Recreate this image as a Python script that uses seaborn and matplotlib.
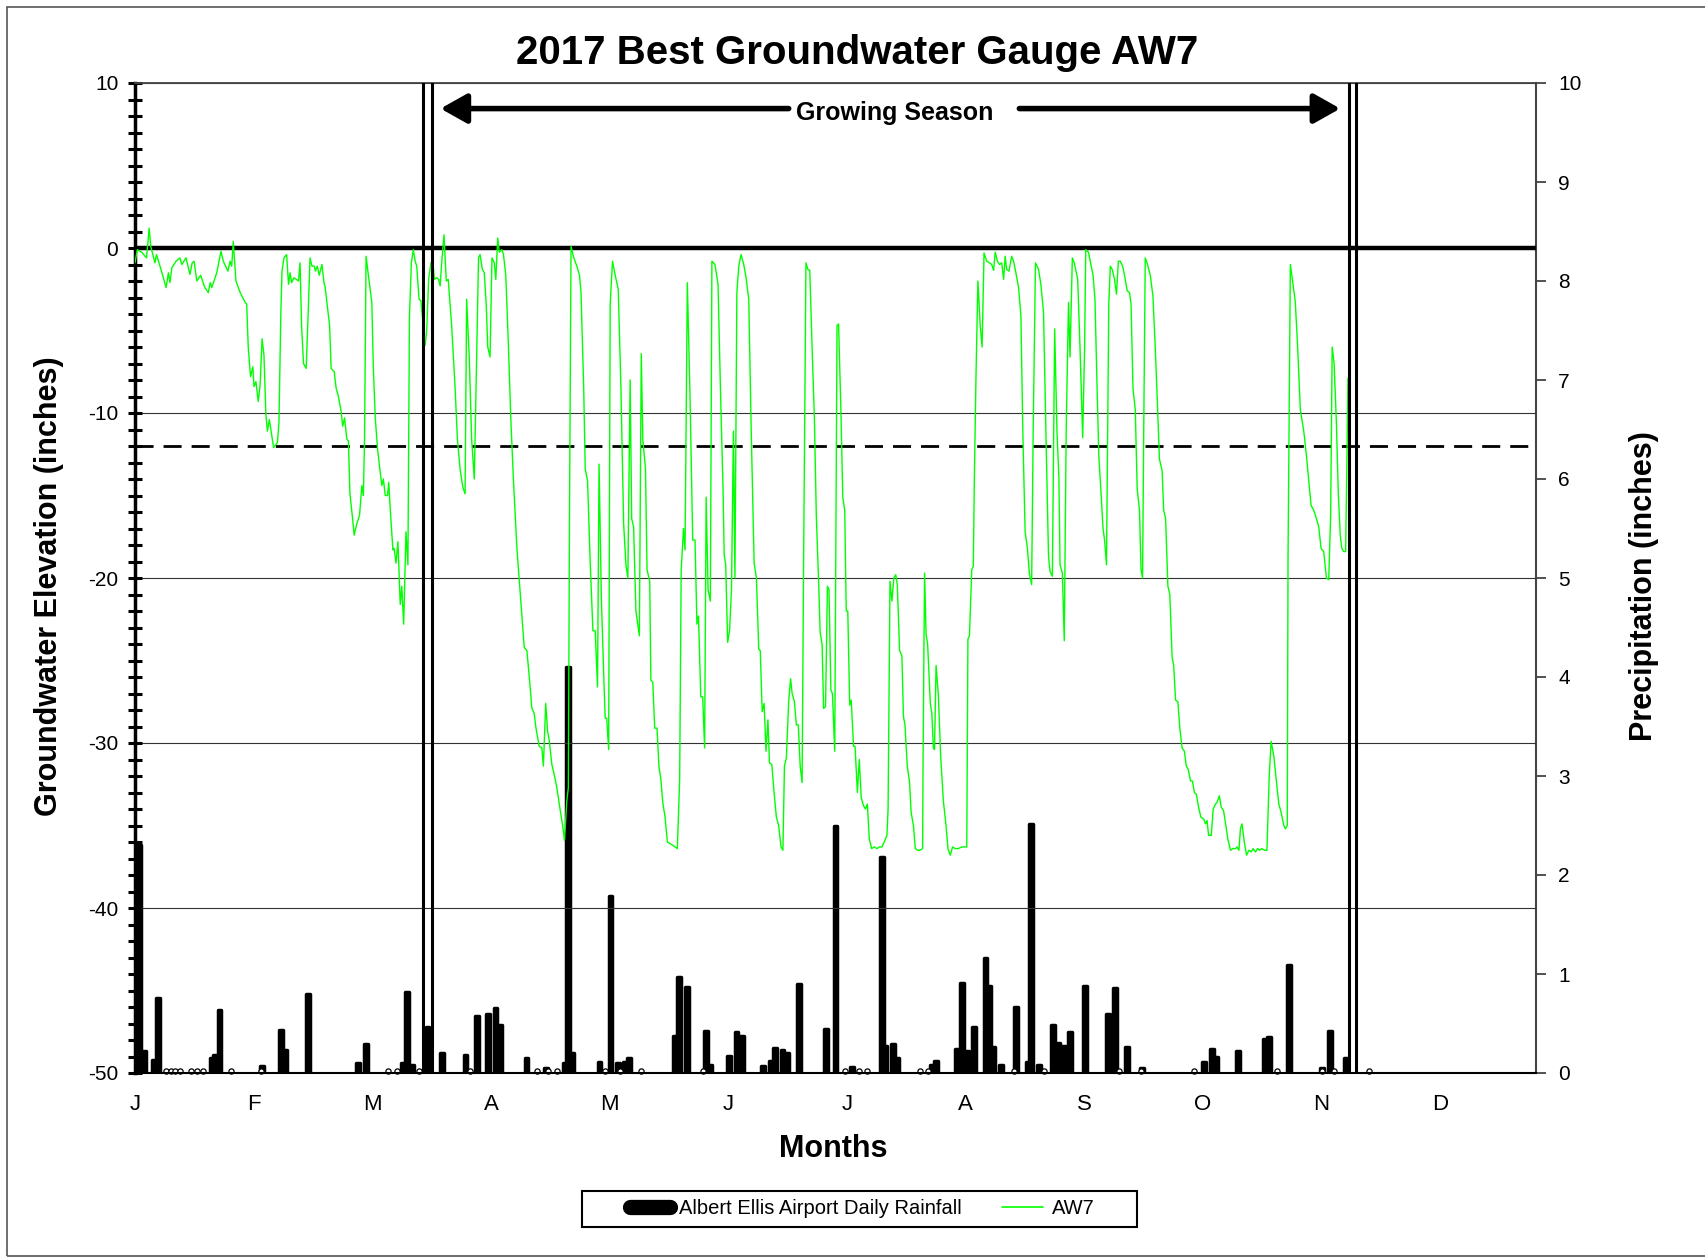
import numpy as np
import pandas as pd
import seaborn as sns
import matplotlib.pyplot as plt
from matplotlib.lines import Line2D
from matplotlib.patches import Rectangle
from matplotlib.ticker import MultipleLocator

# groundwater level at gauge AW7 (inches), day of year
gw_day = [0.0, 0.6, 1.7, 3.0, 3.7, 4.1, 5.2, 5.6, 6.9, 8.1, 8.7, 9.1, 9.6, 10.7, 11.7, 12.2, 13.3, 14.3, 14.9, 15.4,
          16.1, 17.1, 18.2, 19.1, 19.6, 20.0, 21.3, 22.4, 23.0, 24.2, 24.8, 25.2, 25.6, 26.3, 27.4, 28.7, 29.1, 29.5,
          30.1, 30.7, 31.0, 31.5, 32.1, 32.6, 33.1, 33.6, 34.1, 34.5, 35.0, 35.6, 36.1, 37.1, 37.5, 38.0, 38.3, 38.8,
          39.5, 40.0, 40.4, 40.8, 41.4, 42.6, 43.0, 43.4, 43.9, 44.6, 45.2, 45.6, 46.1, 46.7, 47.0, 47.5, 48.0, 48.7,
          49.3, 49.5, 50.7, 51.1, 51.9, 52.4, 53.0, 53.7, 54.1, 54.6, 55.2, 55.6, 56.0, 56.6, 57.1, 57.8, 58.5, 59.1,
          59.5, 59.8, 60.2, 60.8,
          61.7, 62.1, 62.6, 63.2, 63.9, 64.3, 64.7, 65.2, 65.8, 66.1, 66.6, 67.2, 67.5, 68.0, 68.5, 69.1, 69.5, 70.0,
          70.6, 71.1, 71.5, 72.0, 72.5, 73.0, 73.4, 74.0, 74.5, 75.0, 75.6, 76.0, 76.5, 77.1, 77.6, 78.0, 78.6, 79.1,
          79.5, 79.9, 80.5, 81.1, 81.6, 82.5, 83.4, 84.0, 84.7, 85.4, 86.0, 86.4, 87.1, 87.7, 88.4, 89.0, 89.5, 89.9,
          90.5, 91.0, 91.5, 91.9, 92.5, 93.0, 93.6, 94.0, 94.5, 94.9, 95.6, 96.0, 96.6, 97.3, 97.9, 98.6, 99.5, 100.3,
          101.4, 102.1, 102.8, 103.4, 104.0, 104.4, 105.3, 106.0, 106.4, 107.0, 107.5, 107.9, 108.6, 109.2, 109.9,
          110.6, 111.4, 111.9, 112.5, 112.9, 113.2, 113.6, 114.2, 115.1, 115.8, 116.2, 116.9, 117.3, 117.9, 118.6,
          119.3, 119.9, 120.5, 120.9, 121.5, 122.1, 122.5, 122.9, 123.4, 123.8, 124.4,
          125.1, 125.9, 126.6, 127.3, 127.9, 128.4, 129.0, 129.4, 129.9, 130.5, 131.4, 131.9, 132.3, 133.0, 133.4,
          134.1, 134.4, 134.9, 135.4, 136.0, 136.5, 137.0, 137.5, 138.1, 138.7, 139.4, 140.1, 140.7, 141.3, 141.9,
          142.3, 142.9, 143.3, 143.9, 144.6, 145.3, 145.9, 146.4, 146.8, 147.4, 147.9, 148.4, 148.8, 149.3, 149.9,
          150.3, 151.1, 151.9, 152.5, 153.2, 153.5, 153.9, 154.4, 154.9, 155.4, 155.9, 156.3, 156.8, 157.3, 157.9,
          158.6, 159.2, 159.9, 160.5, 161.3, 161.9, 162.5, 162.9, 163.4, 163.9, 164.4, 164.9, 165.3, 165.9, 166.5,
          167.1, 167.7, 168.3, 168.8, 169.2, 169.7, 170.3, 170.8, 171.2, 171.8, 172.3, 172.8, 173.3, 173.8, 174.2,
          174.8, 175.3, 175.8, 176.4, 177.0, 177.5, 178.1, 178.5, 179.0, 179.4, 179.9, 180.4, 180.8, 181.3, 181.7,
          182.3, 182.9, 183.3, 183.9, 184.4, 184.9, 185.3, 185.7, 186.2, 186.6, 187.2,
          187.6, 188.2, 188.7, 189.2, 189.8, 190.3, 190.8, 191.3, 191.9, 192.6, 193.3, 193.9, 194.6, 195.2, 195.9,
          196.2, 196.7, 197.2, 197.7, 198.2, 198.6, 199.2, 199.8, 200.2, 200.6, 201.2, 201.8, 202.2, 202.8, 203.3,
          203.9, 204.5, 205.2, 205.3, 205.7, 206.1, 206.5, 207.2, 207.6, 208.0, 208.3, 208.7, 209.3, 209.9, 210.6,
          211.3, 211.8, 212.4, 213.0, 213.7, 214.5, 215.4, 216.3, 216.7, 217.0, 217.4, 218.0, 218.4, 218.7, 219.1,
          219.6, 220.2, 220.7, 221.2, 221.9, 222.6, 223.2, 223.7, 224.1, 224.7, 225.2, 225.8, 226.3, 226.7, 227.1,
          227.7, 228.4, 228.9, 229.5, 230.2, 230.8, 231.3, 231.9, 232.5, 233.0, 233.6, 234.0, 234.6, 235.4, 236.0,
          236.7, 237.4, 238.0, 238.4, 239.0, 239.6, 240.2, 240.7, 241.0, 241.6, 242.1, 242.6, 243.2, 243.6, 244.2,
          244.7, 245.6, 246.2, 246.9, 247.4, 247.7, 248.4,
          249.6, 250.1, 250.6, 251.1, 251.7, 252.2, 252.6, 253.1, 253.4, 253.7, 254.1, 254.6, 255.2, 255.7, 256.2,
          256.7, 257.3, 257.8, 258.5, 259.1, 259.5, 260.0, 260.6, 261.1, 261.7, 262.1, 262.5, 262.8, 263.2, 263.8,
          264.5, 265.2, 265.8, 266.3, 266.9, 267.6, 268.0, 268.5, 269.1, 269.6, 270.2, 270.6, 271.1, 271.7, 272.2,
          272.8, 273.4, 273.9, 274.4, 275.0, 275.5, 276.0, 276.5, 277.1, 277.7, 278.4, 278.9, 279.3, 279.7, 280.4,
          280.9, 281.5, 281.9, 282.5, 283.0, 283.6, 284.2, 284.7, 285.4, 286.1, 286.7, 287.1, 287.6, 288.0, 288.4,
          289.0, 289.6, 290.2, 290.8, 291.3, 291.9, 292.5, 293.0, 293.6, 294.3, 294.9, 295.5, 296.0, 296.7, 297.4,
          298.0, 298.6, 299.3, 299.7, 300.2, 300.4, 301.0, 301.7, 302.3, 302.9, 303.6, 304.5, 305.2, 305.8, 306.4,
          307.1, 307.8, 308.4, 309.0, 309.7, 310.4, 311.0, 311.5, 311.9,
          312.4, 313.0, 313.5, 314.0, 314.4, 314.9, 315.4, 315.7, 316.0, 316.4]
gw_level = [-0.9, -0.1, -0.25, -0.6, 1.2, 0.1, -0.9, -0.4, -1.4, -2.4, -1.5, -2.1, -1.2, -0.8, -0.6, -1.0, -0.6, -1.6,
            -0.9, -0.8, -2.0, -1.65, -2.4, -2.7, -2.1, -2.4, -1.5, -0.2, -0.8, -1.4, -0.8, -1.1, 0.4, -2.0, -2.7,
            -3.3, -3.4, -6.0, -7.8, -7.2, -8.4, -8.1, -9.3, -8.3, -5.5, -6.5, -10.1, -11.1, -10.4, -11.3, -12.1,
            -11.8, -10.6, -3.9, -1.4, -0.6, -0.4, -2.2, -1.5, -2.1, -1.8, -2.0, -0.9, -4.7, -7.0, -7.3, -3.4, -0.6,
            -1.1, -1.1, -1.4, -1.1, -1.65, -1.0, -2.2, -2.3, -4.7, -7.3, -7.5, -8.5, -9.0, -9.9, -10.8, -10.3, -11.6,
            -11.7, -14.9, -16.2, -17.4, -16.7, -16.2, -14.4, -15.0, -11.6, -0.5, -1.65,
            -3.3, -7.3, -10.3, -12.2, -13.6, -14.4, -14.0, -15.0, -15.0, -14.2, -16.2, -18.3, -18.2, -19.1, -17.8,
            -21.6, -20.5, -22.8, -17.2, -19.2, -4.2, -0.9, -0.1, -0.8, -1.1, -3.1, -3.2, -4.5, -5.9, -5.0, -1.9,
            -0.9, -0.9, -1.9, -1.8, -1.9, -2.3, -0.9, 0.8, -2.0, -1.9, -4.7, -8.5, -11.6, -13.4, -14.5, -14.9, -3.1,
            -6.7, -11.6, -14.0, -6.7, -0.6, -0.4, -1.3, -1.5, -3.4, -6.0, -6.6, -0.6, -0.9, -1.9, 0.6, -0.25, -0.1,
            -0.4, -1.65, -6.0, -10.3, -14.1, -18.2, -20.7, -24.2, -24.4, -26.2, -27.9, -28.2, -29.0, -30.2, -30.3,
            -31.4, -27.6, -29.3, -29.8, -31.3, -31.9, -32.7, -33.8, -35.0, -35.9, -33.5, -32.7, -16.2, 0.1, -0.5,
            -1.1, -1.65, -2.7, -8.5, -13.4, -14.1, -19.1, -23.2, -23.2, -26.6, -13.1, -21.2, -25.8, -28.5, -28.5,
            -30.4, -3.4, -0.8,
            -1.65, -2.5, -8.5, -16.7, -19.2, -20.0, -8.0, -16.4, -16.9, -22.0, -23.5, -6.4, -11.6, -13.4, -19.5,
            -20.2, -26.2, -26.3, -29.1, -29.1, -31.4, -32.2, -33.6, -34.5, -36.0, -36.1, -36.2, -36.3, -36.4, -32.2,
            -19.5, -17.0, -18.3, -2.1, -9.0, -17.7, -17.7, -22.8, -22.3, -27.2, -27.2, -30.3, -15.1, -20.7, -21.4,
            -0.8, -1.0, -2.2, -8.3, -14.6, -18.6, -19.2, -23.9, -23.2, -20.7, -11.1, -20.0, -2.7, -1.1, -0.4,
            -1.0, -1.8, -3.1, -10.6, -19.1, -20.0, -24.3, -24.4, -28.1, -27.6, -30.5, -28.6, -31.2, -31.3, -33.0,
            -34.5, -35.0, -36.3, -36.5, -31.4, -30.9, -27.5, -26.1, -27.0, -27.5, -28.9, -28.9, -31.4, -32.4, -18.7,
            -0.9, -1.3, -1.35, -6.0, -10.3, -16.2, -20.2, -23.3, -24.0, -27.9, -27.8, -20.5, -20.7, -26.8, -27.0,
            -30.5, -4.7, -4.6, -9.8, -15.1, -15.9, -22.0, -22.0, -27.7, -27.4, -30.2,
            -30.2, -33.0, -31.0, -33.3, -33.8, -34.0, -33.7, -35.8, -36.4, -36.3, -36.4, -36.3, -36.3, -36.0, -35.6,
            -34.0, -20.2, -21.4, -20.0, -19.8, -20.4, -24.4, -24.7, -28.4, -28.9, -31.4, -32.4, -34.2, -35.0, -36.4,
            -36.5, -36.5, -36.4, -31.4, -19.7, -23.4, -24.0, -27.6, -28.2, -30.3, -30.4, -25.3, -27.1, -30.8, -33.5,
            -35.0, -36.4, -36.8, -36.3, -36.4, -36.4, -36.3, -36.3, -36.3, -23.7, -23.5, -19.5, -19.3, -13.6, -7.8,
            -2.0, -4.7, -6.0, -0.3, -0.8, -0.9, -1.0, -1.35, -0.25, -0.8, -1.0, -0.9, -1.9, -0.5, -1.3,
            -1.4, -0.5, -0.8, -1.5, -2.4, -4.1, -11.1, -17.2, -18.2, -19.7, -20.4, -11.1, -0.9, -1.3, -2.2,
            -3.9, -12.1, -18.7, -19.6, -19.9, -4.9, -11.1, -13.9, -19.2, -19.7, -23.8, -11.1, -3.3, -6.6, -0.6,
            -0.9, -1.9, -6.0, -11.5, -6.0, -0.1, -0.25,
            -1.65, -3.1, -8.0, -12.6, -14.9, -17.0, -17.7, -19.2, -11.1, -3.4, -1.1, -1.3, -1.9, -2.8, -0.8,
            -0.8, -1.1, -1.65, -2.6, -2.7, -3.4, -8.5, -9.8, -14.6, -15.9, -19.5, -20.0, -11.1, -0.6, -1.0,
            -1.65, -2.9, -6.0, -9.0, -12.8, -13.5, -15.9, -16.4, -20.5, -21.0, -24.8, -25.3, -27.4, -27.5, -29.1,
            -30.3, -30.5, -31.4, -31.6, -32.3, -32.3, -33.0, -33.1, -33.9, -34.5, -34.6, -34.9, -34.7, -35.6, -35.6,
            -34.0, -33.7, -33.6, -33.2, -33.9, -34.1, -35.0, -35.8, -36.5, -36.4, -36.4, -36.3, -36.5, -35.2, -34.9,
            -36.0, -36.8, -36.5, -36.6, -36.4, -36.6, -36.4, -36.5, -36.4, -36.5, -36.5, -32.0, -29.9, -30.8, -32.4,
            -33.7, -34.2, -35.0, -35.2, -35.0, -18.7, -1.0, -2.2, -3.3, -6.0, -9.8, -11.1, -12.6, -14.1, -15.6,
            -15.9, -16.4, -16.9, -18.2, -18.4, -20.0, -20.1, -16.2, -6.0,
            -7.0, -10.6, -14.9, -17.4, -18.2, -18.4, -18.4, -13.6, -7.9, -10.3]

# Albert Ellis Airport daily rainfall (inches)
rain_day = [1.0, 2.3, 4.8, 6.1, 20.0, 20.9, 22.0, 33.0, 38.0, 39.2, 45.0, 58.0, 60.1, 69.8, 70.9, 72.1, 76.2, 80.0,
            86.1, 89.0, 91.9, 93.9, 95.0, 102.0, 107.0, 111.9, 112.8, 114.0, 121.0, 123.9, 125.9, 127.6, 128.7,
            140.6, 141.8, 143.9, 148.8, 149.9, 154.7, 156.7, 158.1, 163.6, 165.6, 166.8, 168.7, 169.8, 173.0,
            180.0, 182.5, 186.7, 194.7, 195.5, 197.5, 198.6, 207.7, 208.6, 214.2, 215.4, 216.8, 218.5, 221.6,
            222.4, 223.6, 225.6, 229.5, 232.6, 233.5, 235.5, 239.2, 240.6, 242.0, 243.7, 247.4, 253.6, 255.3,
            258.4, 262.4, 278.5, 280.5, 281.7, 287.3, 294.5, 295.5, 300.6, 309.3, 311.4, 315.5]
rain_in = [2.3, 0.22, 0.13, 0.76, 0.15, 0.18, 0.64, 0.07, 0.43, 0.23, 0.80, 0.10, 0.29, 0.10, 0.82, 0.08, 0.46, 0.20,
           0.18, 0.58, 0.60, 0.66, 0.48, 0.15, 0.05, 0.10, 4.10, 0.20, 0.11, 1.79, 0.10, 0.11, 0.15,
           0.37, 0.97, 0.87, 0.42, 0.08, 0.17, 0.41, 0.37, 0.07, 0.12, 0.25, 0.23, 0.20, 0.90,
           0.44, 2.49, 0.06, 2.18, 0.27, 0.29, 0.15, 0.08, 0.12, 0.24, 0.91, 0.22, 0.46, 1.16,
           0.88, 0.26, 0.08, 0.67, 0.11, 2.52, 0.08, 0.48, 0.30, 0.27, 0.41, 0.88, 0.60, 0.86,
           0.26, 0.05, 0.11, 0.24, 0.16, 0.22, 0.34, 0.36, 1.09, 0.05, 0.42, 0.15]
# days with a trace of rain (drawn as small open markers)
trace_day = [8.2, 9.4, 10.5, 11.6, 14.7, 16.2, 17.6, 24.9, 32.9, 66.0, 68.3, 74.0, 87.4, 104.8, 107.6, 110.0,
             122.5, 126.4, 131.8, 148.0, 185.0, 188.5, 190.8, 204.6, 206.6, 229.1, 236.9, 256.3, 262.2,
             275.9, 297.6, 309.3, 312.3, 321.4]

month_pos = [0, 30.9, 61.8, 92.8, 123.7, 154.6, 185.5, 216.4, 247.3, 278.2, 309.1, 340.0]
month_lbl = ['J', 'F', 'M', 'A', 'M', 'J', 'J', 'A', 'S', 'O', 'N', 'D']
season_lines = [75.1, 77.3, 316.4, 318.1]

sns.set_style("white")
plt.rcParams['font.family'] = ['Liberation Sans', 'DejaVu Sans']
plt.rcParams['axes.unicode_minus'] = False
plt.rcParams['text.color'] = 'black'
plt.rcParams['xtick.color'] = 'black'
plt.rcParams['ytick.color'] = 'black'
plt.rcParams['axes.labelcolor'] = 'black'

fig = plt.figure(figsize=(17.05, 12.57), dpi=100)
ax = fig.add_axes([135 / 1705, 1 - 1073 / 1257, 1401 / 1705, 990 / 1257])
ax2 = ax.twinx()
ax.set_zorder(ax2.get_zorder() + 1)
ax.patch.set_visible(False)

# rainfall on the right axis
ax2.bar(rain_day, rain_in, width=1.0, color='black', edgecolor='black', linewidth=2.5, joinstyle='round')
ax2.scatter(trace_day, [0.02] * len(trace_day), s=14, facecolors='white', edgecolors='black',
            linewidths=0.9, clip_on=False, zorder=3)
ax2.set_ylim(0, 10)
ax2.set_yticks(range(0, 11))
ax2.tick_params(axis='y', direction='out', length=7, width=1.3, color='#444444', labelcolor='black',
                labelsize=15, pad=9)
for s in ['left', 'top', 'bottom']:
    ax2.spines[s].set_visible(False)
ax2.spines['right'].set_color('#444444')
ax2.spines['right'].set_linewidth(1.5)

# groundwater on the left axis
df = pd.DataFrame({'day': gw_day, 'level': gw_level})
sns.lineplot(data=df, x='day', y='level', ax=ax, color='#00ff00', linewidth=1.0,
             estimator=None, sort=False, zorder=4)

ax.set_xlim(0, 365)
ax.set_ylim(-50, 10)
ax.set_yticks(range(-50, 11, 10))
ax.yaxis.set_minor_locator(MultipleLocator(1))
ax.tick_params(axis='y', which='both', direction='inout', length=10, width=2.2, color='black',
               labelsize=15, pad=7)
ax.set_xticks(month_pos)
ax.set_xticklabels(month_lbl)
ax.xaxis.set_minor_locator(MultipleLocator(1))
ax.tick_params(axis='x', which='both', direction='out', length=7, width=0.8, color='#555555',
               labelcolor='black', labelsize=16, pad=8)
ax.grid(axis='y', which='major', color='#333333', linewidth=0.8)
ax.set_xlabel('')
ax.set_ylabel('')

ax.spines['left'].set_linewidth(2.5)
ax.spines['left'].set_color('black')
ax.spines['bottom'].set_linewidth(1.5)
ax.spines['bottom'].set_color('black')
ax.spines['top'].set_linewidth(1.3)
ax.spines['top'].set_color('#444444')
ax.spines['right'].set_visible(False)

ax.axhline(0, color='black', linewidth=3.2, zorder=3)
ax.axhline(-12, color='black', linewidth=2, dashes=(6.5, 3.6), zorder=3)
for xv in season_lines:
    ax.axvline(xv, color='black', linewidth=2.2, zorder=5)

# growing season arrow
arrow_y = 8.45
ax.annotate('', xy=(79.6, arrow_y), xytext=(170.3, arrow_y),
            arrowprops=dict(arrowstyle='-|>,head_length=0.8,head_width=0.45', lw=4, color='black',
                            mutation_scale=20, shrinkA=0, shrinkB=0))
ax.annotate('', xy=(314.0, arrow_y), xytext=(230.4, arrow_y),
            arrowprops=dict(arrowstyle='-|>,head_length=0.8,head_width=0.45', lw=4, color='black',
                            mutation_scale=20, shrinkA=0, shrinkB=0))
ax.text(197.8, 8.2, 'Growing Season', ha='center', va='center', fontsize=18, fontweight='bold')

fig.text(0.5026, 0.958, '2017 Best Groundwater Gauge AW7', ha='center', va='center',
         fontsize=29, fontweight='bold')
fig.text(0.0285, 0.534, 'Groundwater Elevation (inches)', ha='center', va='center', rotation=90,
         fontsize=22, fontweight='bold')
fig.text(0.9643, 0.534, 'Precipitation (inches)', ha='center', va='center', rotation=90,
         fontsize=22, fontweight='bold')
fig.text(0.489, 0.0858, 'Months', ha='center', va='center', fontsize=22, fontweight='bold')

# legend: box drawn separately, entries centred inside it
fig.patches.append(Rectangle((582 / 1705, 1 - 1227 / 1257), 555 / 1705, 36 / 1257, transform=fig.transFigure,
                             fill=False, edgecolor='black', linewidth=1.5))
handles = [Line2D([0], [0], color='black', lw=11, solid_capstyle='round'),
           Line2D([0], [0], color='#00ff00', lw=1.2)]
fig.legend(handles, ['Albert Ellis Airport Daily Rainfall', 'AW7'], loc='center',
           bbox_to_anchor=(0.5057, 1 - 1209 / 1257), ncol=2, frameon=False,
           fontsize=14.5, handlelength=2.0, columnspacing=2.0, handletextpad=0.45)

fig.patches.append(Rectangle((7 / 1705, 1 / 1257), 1.0, 1 - 8 / 1257, transform=fig.transFigure,
                             fill=False, edgecolor='#555555', linewidth=1.2))

fig.savefig('out.png', dpi=100)
